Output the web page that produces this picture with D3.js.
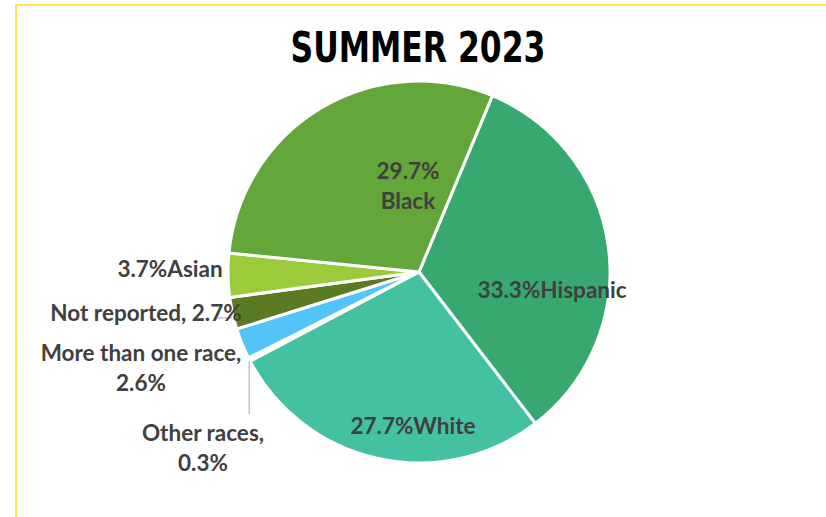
<!DOCTYPE html>
<html>
<head>
<meta charset="utf-8">
<script src="https://cdn.jsdelivr.net/npm/d3@7"></script>
<style>
  html, body { margin: 0; padding: 0; background: #fff; }
  svg { display: block; }
</style>
</head>
<body>
<div id="chart"></div>
<script>
// data, clockwise from the Hispanic slice
const categories = ["Hispanic", "White", "Other races", "More than one race", "Not reported", "Asian", "Black"];
const values = [33.3, 27.7, 0.3, 2.6, 2.7, 3.7, 29.7];
const colors = ["#37a86f", "#44c1a3", "#f4f4f4", "#53c4f7", "#5b7b22", "#9bcb3b", "#63a63a"];
const labelLines = [
  ["33.3%Hispanic"],
  ["27.7%White"],
  ["Other races,", "0.3%"],
  ["More than one race,", "2.6%"],
  ["Not reported, 2.7%"],
  ["3.7%Asian"],
  ["29.7%", "Black"]
];

const width = 826, height = 517;
const cx = 419, cy = 272, radius = 191;
const startDeg = 22.6;

// label anchor points (text centre of first line)
const labelPos = [
  { x: 552, y: 289 },
  { x: 413, y: 425 },
  { x: 203, y: 432 },
  { x: 141, y: 352 },
  { x: 146, y: 312 },
  { x: 170, y: 268 },
  { x: 408, y: 170 }
];

const svg = d3.select("#chart")
  .append("svg")
  .attr("width", width)
  .attr("height", height);

// yellow frame (top and left edges only are visible)
svg.append("path")
  .attr("d", `M16,${height} L16,5 L${width},5`)
  .attr("fill", "none")
  .attr("stroke", "#ffe01a")
  .attr("stroke-width", 1.5);

svg.append("text")
  .attr("x", 418)
  .attr("y", 62)
  .attr("text-anchor", "middle")
  .attr("font-family", "'DejaVu Sans Condensed', 'Liberation Sans Narrow', sans-serif")
  .attr("font-weight", "bold")
  .attr("font-size", 42)
  .attr("textLength", 255)
  .attr("lengthAdjust", "spacingAndGlyphs")
  .attr("fill", "#000")
  .text("SUMMER 2023");

const a0 = startDeg * Math.PI / 180;
const pie = d3.pie().sort(null).value(d => d).startAngle(a0).endAngle(a0 + 2 * Math.PI);
const arcs = pie(values);
const arc = d3.arc().innerRadius(0).outerRadius(radius);

const g = svg.append("g").attr("transform", `translate(${cx}, ${cy})`);

g.selectAll("path")
  .data(arcs)
  .join("path")
  .attr("d", arc)
  .attr("fill", (d, i) => colors[i])
  .attr("stroke", "#fff")
  .attr("stroke-width", 3)
  .attr("stroke-linejoin", "round");

// leader line for "Other races"
const other = arcs[2];
const midA = (other.startAngle + other.endAngle) / 2;
const ex = cx + Math.sin(midA) * radius;
const ey = cy - Math.cos(midA) * radius;
svg.append("line")
  .attr("x1", ex).attr("y1", ey + 2)
  .attr("x2", ex).attr("y2", 414)
  .attr("stroke", "#a6a6a6")
  .attr("stroke-width", 1);

// small leader for "Not reported"
svg.append("line")
  .attr("x1", 218).attr("y1", 318)
  .attr("x2", 232).attr("y2", 318)
  .attr("stroke", "#a6a6a6")
  .attr("stroke-width", 1);

const labels = svg.append("g")
  .attr("font-family", "Lato, 'Open Sans', sans-serif")
  .attr("font-weight", "bold")
  .attr("font-size", 22.5)
  .attr("fill", "#404040")
  .attr("text-anchor", "middle");

labelLines.forEach((lines, i) => {
  const t = labels.append("text")
    .attr("x", labelPos[i].x)
    .attr("y", labelPos[i].y)
    .attr("dominant-baseline", "central");
  lines.forEach((line, j) => {
    t.append("tspan")
      .attr("x", labelPos[i].x)
      .attr("dy", j === 0 ? 0 : 30)
      .text(line);
  });
});
</script>
</body>
</html>
